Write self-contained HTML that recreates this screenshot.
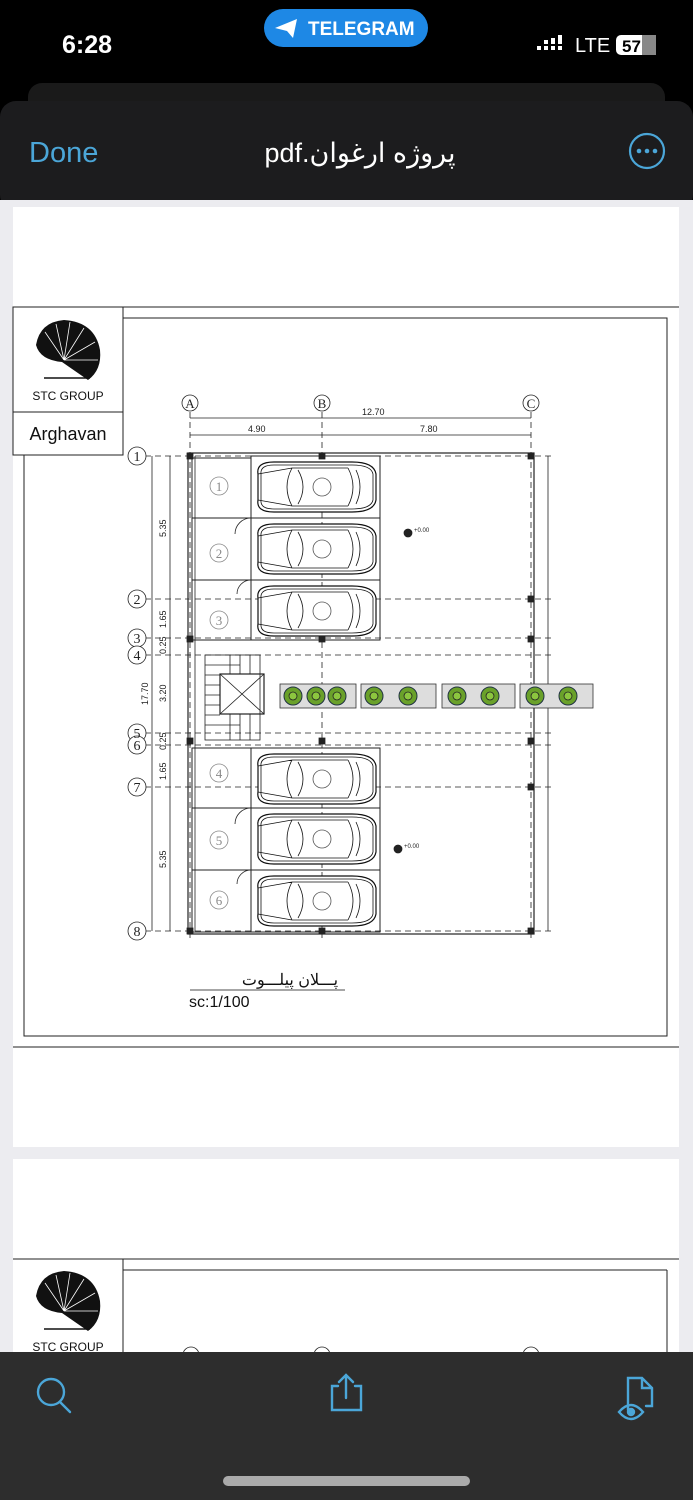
<!DOCTYPE html>
<html><head><meta charset="utf-8"><style>
html,body{margin:0;padding:0;width:693px;height:1500px;overflow:hidden;background:#000;font-family:"Liberation Sans","Noto Sans CJK SC",sans-serif}
svg{display:block}
</style></head><body>
<svg width="693" height="1500" viewBox="0 0 693 1500" xmlns="http://www.w3.org/2000/svg" font-family="Liberation Sans, DejaVu Sans, sans-serif">
<defs>
<g id="car">
<path d="M6 14 Q4 2 22 2 L100 2 Q122 2 124 14 L124 40 Q122 52 100 52 L22 52 Q4 52 6 40 Z" fill="#fff" stroke="#111" stroke-width="1.2"/>
<path d="M9 14 Q8 5 22 5 L100 5 Q119 5 121 14 L121 40 Q119 49 100 49 L22 49 Q8 49 9 40 Z" fill="none" stroke="#111" stroke-width="0.8"/>
<path d="M40 8 Q30 27 40 46 M46 10 Q56 27 46 44 M96 8 Q106 27 96 46 M104 10 Q112 27 104 44 M40 8 L96 8 M40 46 L96 46 M6 14 L40 8 M6 40 L40 46" fill="none" stroke="#111" stroke-width="0.8"/>
<circle cx="70" cy="27" r="9" fill="none" stroke="#555" stroke-width="0.8"/>
</g>
<g id="tree"><circle r="9" fill="#6aa12a" stroke="#234" stroke-width="1"/><circle r="4" fill="#8cc63f"/></g>
</defs>
<rect width="693" height="1500" fill="#000"/>
<text x="62" y="53" font-size="25" fill="#fff" font-weight="bold">6:28</text>
<rect x="264" y="9" width="164" height="38" rx="19" fill="#1e88e5"/>
<path d="M275 28 L297 19 L293 38 L287 31 Z" fill="#fff"/>
<text x="308" y="35" font-size="19" fill="#fff" font-weight="bold">TELEGRAM</text>
<g fill="#fff"><rect x="537" y="46" width="4" height="4"/><rect x="544" y="46" width="4" height="4"/><rect x="551" y="46" width="4" height="4"/><rect x="558" y="46" width="4" height="4"/><rect x="544" y="40" width="4" height="4"/><rect x="551" y="38" width="4" height="6"/><rect x="558" y="35" width="4" height="9"/></g>
<text x="575" y="52" font-size="20" fill="#fff">LTE</text>
<rect x="616" y="35" width="40" height="20" rx="5" fill="#fff"/><rect x="642" y="35" width="14" height="20" fill="#888"/>
<text x="622" y="52" font-size="17" font-weight="bold" fill="#000">57</text>
<rect x="28" y="83" width="637" height="40" rx="14" fill="#1a1a1a"/>
<rect x="0" y="101" width="693" height="110" rx="16" fill="#1c1c1e"/>
<text x="29" y="162" font-size="29" fill="#4ba6d8">Done</text>
<text x="360" y="162" font-size="27" fill="#fff" text-anchor="middle" direction="rtl" unicode-bidi="embed" font-family="Liberation Sans, Noto Sans CJK SC, sans-serif">پروژه ارغوان.pdf</text>
<circle cx="647" cy="151" r="17" fill="none" stroke="#4ba6d8" stroke-width="2.2"/>
<g fill="#4ba6d8"><circle cx="639" cy="151" r="2.3"/><circle cx="647" cy="151" r="2.3"/><circle cx="655" cy="151" r="2.3"/></g>
<rect x="0" y="200" width="693" height="1152" fill="#ececf0"/>
<rect x="13" y="207" width="666" height="940" fill="#fff"/>
<rect x="13" y="1159" width="666" height="200" fill="#fff"/>
<g stroke="#222" fill="none" stroke-width="1">
<line x1="13" y1="307" x2="679" y2="307"/>
<line x1="13" y1="1047" x2="679" y2="1047"/>
<rect x="24" y="318" width="643" height="718"/>
<rect x="13" y="307" width="110" height="148" fill="#fff"/>
<line x1="13" y1="412" x2="123" y2="412"/>
<line x1="13" y1="1259" x2="679" y2="1259"/>
<line x1="123" y1="1259" x2="123" y2="1352"/>
<line x1="123" y1="1270" x2="667" y2="1270"/>
<line x1="667" y1="1270" x2="667" y2="1352"/>
</g>
<g id="logo">
<path d="M36 345 Q40 322 64 320 Q95 322 100 350 Q102 370 88 380 L62 362 Q40 360 36 345 Z" fill="#111"/>
<path d="M64 360 L45 332 M64 360 L56 324 M64 360 L70 322 M64 360 L84 328 M64 360 L95 342 M64 360 L98 360" stroke="#fff" stroke-width="0.8" fill="none"/>
<line x1="44" y1="378" x2="90" y2="378" stroke="#111" stroke-width="1.5"/>
</g>
<text x="68" y="400" font-size="12" text-anchor="middle" fill="#111">STC GROUP</text>
<text x="68" y="440" font-size="18" text-anchor="middle" fill="#111">Arghavan</text>
<g transform="translate(0,951)"><use href="#logo"/></g>
<text x="68" y="1351" font-size="12" text-anchor="middle" fill="#111">STC GROUP</text>
<g stroke="#222" fill="none" stroke-width="0.8" font-size="9">
<g fill="#fff">
<circle cx="190" cy="403" r="8"/><circle cx="322" cy="403" r="8"/><circle cx="531" cy="403" r="8"/>
</g>
<g font-family="Liberation Serif, serif" fill="#222" stroke="none" font-size="13" text-anchor="middle">
<text x="190" y="408">A</text><text x="322" y="408">B</text><text x="531" y="408">C</text>
</g>
<line x1="190" y1="418" x2="531" y2="418"/><line x1="190" y1="435" x2="531" y2="435"/>
<text x="362" y="415" stroke="none" fill="#222" font-size="9">12.70</text>
<text x="248" y="432" stroke="none" fill="#222" font-size="9">4.90</text>
<text x="420" y="432" stroke="none" fill="#222" font-size="9">7.80</text>
<g stroke-dasharray="6 4">
<line x1="190" y1="412" x2="190" y2="940"/><line x1="322" y1="412" x2="322" y2="940"/><line x1="531" y1="412" x2="531" y2="940"/>
<line x1="145" y1="456" x2="555" y2="456"/><line x1="145" y1="599" x2="555" y2="599"/>
<line x1="145" y1="638" x2="555" y2="638"/><line x1="145" y1="655" x2="555" y2="655"/>
<line x1="145" y1="733" x2="555" y2="733"/><line x1="145" y1="745" x2="555" y2="745"/>
<line x1="145" y1="787" x2="555" y2="787"/><line x1="145" y1="931" x2="555" y2="931"/>
</g>
<g fill="#fff">
<circle cx="137" cy="456" r="9"/><circle cx="137" cy="599" r="9"/><circle cx="137" cy="638" r="9"/><circle cx="137" cy="655" r="9"/>
<circle cx="137" cy="733" r="9"/><circle cx="137" cy="745" r="9"/><circle cx="137" cy="787" r="9"/><circle cx="137" cy="931" r="9"/>
</g>
<g font-family="Liberation Serif, serif" fill="#222" stroke="none" font-size="14" text-anchor="middle">
<text x="137" y="461">1</text><text x="137" y="604">2</text><text x="137" y="643">3</text><text x="137" y="660">4</text>
<text x="137" y="738">5</text><text x="137" y="750">6</text><text x="137" y="792">7</text><text x="137" y="936">8</text>
</g>
<line x1="152" y1="456" x2="152" y2="931"/><line x1="170" y1="456" x2="170" y2="931"/>
<g stroke="none" fill="#222" font-size="9">
<text transform="translate(166,537) rotate(-90)">5.35</text>
<text transform="translate(166,628) rotate(-90)">1.65</text>
<text transform="translate(166,654) rotate(-90)">0.25</text>
<text transform="translate(148,705) rotate(-90)">17.70</text>
<text transform="translate(166,702) rotate(-90)">3.20</text>
<text transform="translate(166,750) rotate(-90)">0.25</text>
<text transform="translate(166,780) rotate(-90)">1.65</text>
<text transform="translate(166,868) rotate(-90)">5.35</text>
</g>
<rect x="188" y="453" width="346" height="481" stroke-width="1.2"/>
<line x1="195" y1="456" x2="195" y2="931"/>
<line x1="548" y1="456" x2="548" y2="931"/>
<g stroke-width="1">
<rect x="192" y="458" width="59" height="60"/><rect x="192" y="518" width="59" height="62"/><rect x="192" y="580" width="59" height="60"/>
<rect x="192" y="748" width="59" height="60"/><rect x="192" y="808" width="59" height="62"/><rect x="192" y="870" width="59" height="62"/>
<rect x="251" y="456" width="129" height="62"/><rect x="251" y="518" width="129" height="62"/><rect x="251" y="580" width="129" height="60"/>
<rect x="251" y="748" width="129" height="60"/><rect x="251" y="808" width="129" height="62"/><rect x="251" y="870" width="129" height="62"/>
</g>
<g stroke="#888"><circle cx="219" cy="486" r="9"/><circle cx="219" cy="553" r="9"/><circle cx="219" cy="620" r="9"/><circle cx="219" cy="773" r="9"/><circle cx="219" cy="840" r="9"/><circle cx="219" cy="900" r="9"/></g>
<g stroke="none" fill="#888" font-family="Liberation Serif, serif" font-size="13" text-anchor="middle">
<text x="219" y="491">1</text><text x="219" y="558">2</text><text x="219" y="625">3</text><text x="219" y="778">4</text><text x="219" y="845">5</text><text x="219" y="905">6</text></g>
<use href="#car" x="252" y="460"/><use href="#car" x="252" y="522"/><use href="#car" x="252" y="584"/>
<use href="#car" x="252" y="752"/><use href="#car" x="252" y="812"/><use href="#car" x="252" y="874"/>
<path d="M251 518 A16 16 0 0 0 235 534 M251 580 A14 14 0 0 0 237 594 M251 808 A16 16 0 0 0 235 824 M251 870 A14 14 0 0 0 237 884"/>
<rect x="205" y="655" width="55" height="85"/>
<rect x="220" y="674" width="44" height="40" stroke-width="1.2"/>
<path d="M220 674 L264 714 M264 674 L220 714"/>
<path d="M205 665 H240 M205 675 H220 M205 685 H220 M205 695 H220 M205 705 H220 M205 715 H220 M205 725 H240 M230 655 V674 M240 655 V674 M250 655 V674 M230 714 V740 M240 714 V740 M250 714 V740"/>
<g fill="#ddd" stroke="#333"><rect x="280" y="684" width="76" height="24"/><rect x="361" y="684" width="75" height="24"/><rect x="442" y="684" width="73" height="24"/><rect x="520" y="684" width="73" height="24"/></g>
<use href="#tree" x="293" y="696"/><use href="#tree" x="316" y="696"/><use href="#tree" x="337" y="696"/>
<use href="#tree" x="374" y="696"/><use href="#tree" x="408" y="696"/>
<use href="#tree" x="457" y="696"/><use href="#tree" x="490" y="696"/>
<use href="#tree" x="535" y="696"/><use href="#tree" x="568" y="696"/>
<circle cx="408" cy="533" r="4" fill="#222"/><text x="414" y="532" stroke="none" fill="#222" font-size="6">+0.00</text>
<circle cx="398" cy="849" r="4" fill="#222"/><text x="404" y="848" stroke="none" fill="#222" font-size="6">+0.00</text>
<g fill="#222"><rect x="187" y="453" width="6" height="6"/><rect x="319" y="453" width="6" height="6"/><rect x="528" y="453" width="6" height="6"/>
<rect x="187" y="928" width="6" height="6"/><rect x="319" y="928" width="6" height="6"/><rect x="528" y="928" width="6" height="6"/>
<rect x="187" y="636" width="6" height="6"/><rect x="319" y="636" width="6" height="6"/><rect x="528" y="636" width="6" height="6"/>
<rect x="187" y="738" width="6" height="6"/><rect x="319" y="738" width="6" height="6"/><rect x="528" y="738" width="6" height="6"/>
<rect x="528" y="596" width="6" height="6"/><rect x="528" y="784" width="6" height="6"/></g>
</g>
<text x="290" y="985" font-size="16" fill="#111" text-anchor="middle" direction="rtl" unicode-bidi="embed" font-family="Liberation Sans, Noto Sans CJK SC, sans-serif">پـــلان پیلـــوت</text>
<line x1="190" y1="990" x2="345" y2="990" stroke="#111" stroke-width="0.8"/>
<text x="189" y="1007" font-size="16" fill="#111">sc:1/100</text>
<g fill="#fff" stroke="#222" stroke-width="0.8"><circle cx="191" cy="1355" r="8"/><circle cx="322" cy="1355" r="8"/><circle cx="531" cy="1355" r="8"/></g>
<rect x="0" y="1352" width="693" height="148" fill="#2d2d2d"/>
<g stroke="#4ba6d8" stroke-width="2.4" fill="none" stroke-linecap="round">
<circle cx="51" cy="1392" r="13"/><line x1="60" y1="1402" x2="70" y2="1412"/>
<path d="M338 1386 H332 V1410 H361 V1386 H355 M346 1398 V1375 M339 1382 L346 1375 L353 1382"/>
<path d="M628 1410 V1378 H642 L652 1388 V1406 H646 M642 1378 V1388 H652"/>
<path d="M619 1412 Q631 1398 643 1412 Q631 1426 619 1412 Z"/><circle cx="631" cy="1412" r="3" fill="#4ba6d8"/>
</g>
<rect x="223" y="1476" width="247" height="10" rx="5" fill="#aaa"/>
</svg>
</body></html>
